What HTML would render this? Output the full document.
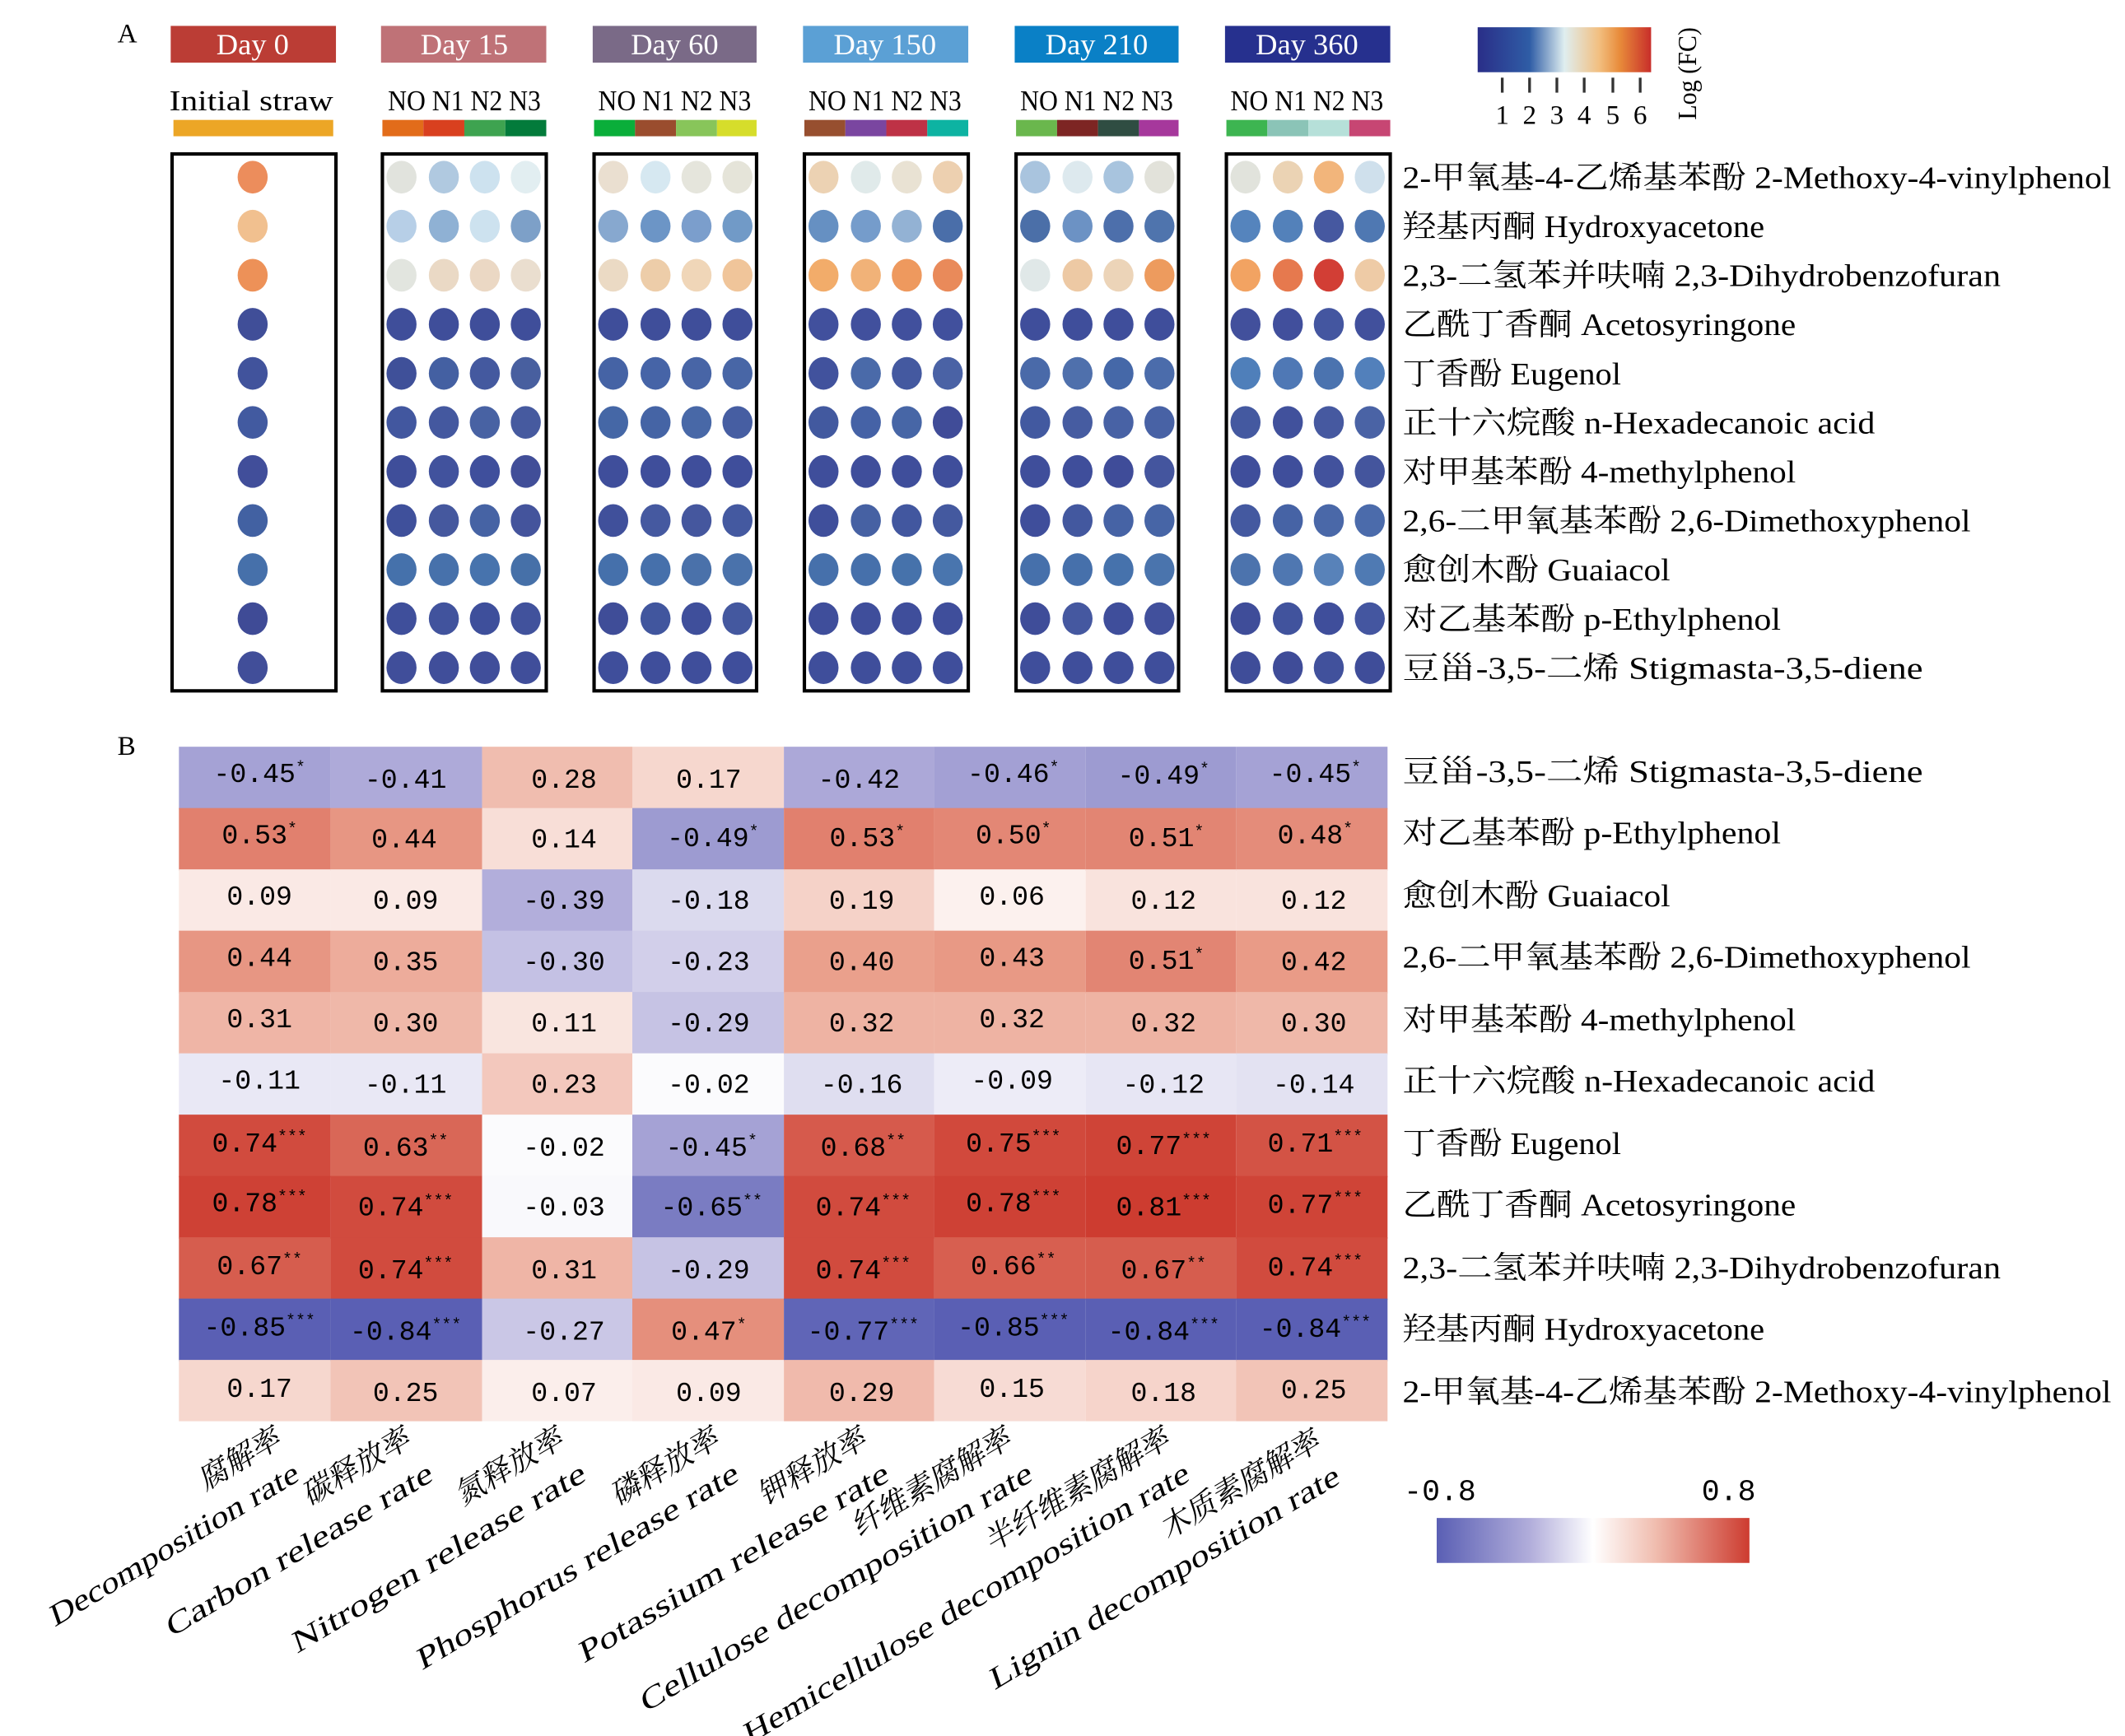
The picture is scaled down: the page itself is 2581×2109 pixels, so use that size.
<!DOCTYPE html>
<html><head><meta charset="utf-8"><style>html,body{margin:0;padding:0;background:#fff}svg{display:block}</style></head><body>
<svg xmlns="http://www.w3.org/2000/svg" width="2581" height="2109" viewBox="0 0 1556 1274" preserveAspectRatio="none" font-family="'Liberation Serif','Noto Serif CJK SC',serif">
<defs>
<linearGradient id="ga" x1="0" x2="1" y1="0" y2="0"><stop offset="0" stop-color="#2a2e88"/><stop offset="0.3" stop-color="#2f5da6"/><stop offset="0.5" stop-color="#dfeef0"/><stop offset="0.7" stop-color="#f2bf80"/><stop offset="0.82" stop-color="#e88b3a"/><stop offset="1" stop-color="#c82e2a"/></linearGradient>
<linearGradient id="gb" x1="0" x2="1" y1="0" y2="0"><stop offset="0" stop-color="#5a5fb4"/><stop offset="0.3" stop-color="#b2aedb"/><stop offset="0.5" stop-color="#ffffff"/><stop offset="0.7" stop-color="#f0bdaf"/><stop offset="1" stop-color="#cd3c30"/></linearGradient>
</defs>
<text x="86" y="31" font-size="20">A</text>
<text x="86" y="554" font-size="20">B</text>
<g font-size="22" fill="#fff" text-anchor="middle">
<rect x="125" y="19" width="121" height="27" fill="#bb3d35"/><text x="185" y="40">Day 0</text>
<rect x="279" y="19" width="121" height="27" fill="#bf7277"/><text x="340" y="40">Day 15</text>
<rect x="434" y="19" width="120" height="27" fill="#7a6a87"/><text x="494" y="40">Day 60</text>
<rect x="588" y="19" width="121" height="27" fill="#5ba0d5"/><text x="648" y="40">Day 150</text>
<rect x="743" y="19" width="120" height="27" fill="#0a80c6"/><text x="803" y="40">Day 210</text>
<rect x="897" y="19" width="121" height="27" fill="#26308e"/><text x="957" y="40">Day 360</text>
</g>
<g font-size="21" text-anchor="middle">
<text x="184" y="81" textLength="120" lengthAdjust="spacingAndGlyphs">Initial straw</text>
<text x="340" y="81" textLength="112" lengthAdjust="spacingAndGlyphs">NO N1 N2 N3</text>
<text x="494" y="81" textLength="112" lengthAdjust="spacingAndGlyphs">NO N1 N2 N3</text>
<text x="648" y="81" textLength="112" lengthAdjust="spacingAndGlyphs">NO N1 N2 N3</text>
<text x="803" y="81" textLength="112" lengthAdjust="spacingAndGlyphs">NO N1 N2 N3</text>
<text x="957" y="81" textLength="112" lengthAdjust="spacingAndGlyphs">NO N1 N2 N3</text>
</g>
<rect x="127" y="88" width="117" height="12" fill="#eca626"/>
<g>
<rect x="280" y="88" width="30" height="12" fill="#e26c1a"/><rect x="310" y="88" width="30" height="12" fill="#d9401f"/><rect x="340" y="88" width="30" height="12" fill="#3ea350"/><rect x="370" y="88" width="30" height="12" fill="#037b3b"/>
<rect x="435" y="88" width="30" height="12" fill="#0aae3a"/><rect x="465" y="88" width="30" height="12" fill="#9a4d2e"/><rect x="495" y="88" width="30" height="12" fill="#88c55a"/><rect x="525" y="88" width="29" height="12" fill="#d6dd2b"/>
<rect x="589" y="88" width="30" height="12" fill="#974f2f"/><rect x="619" y="88" width="30" height="12" fill="#7a46a0"/><rect x="649" y="88" width="30" height="12" fill="#be3246"/><rect x="679" y="88" width="30" height="12" fill="#0db3a2"/>
<rect x="744" y="88" width="30" height="12" fill="#6ab74d"/><rect x="774" y="88" width="30" height="12" fill="#7d2523"/><rect x="804" y="88" width="30" height="12" fill="#2f4d42"/><rect x="834" y="88" width="29" height="12" fill="#a6389c"/>
<rect x="898" y="88" width="30" height="12" fill="#3db551"/><rect x="928" y="88" width="30" height="12" fill="#8bc4b7"/><rect x="958" y="88" width="30" height="12" fill="#b6e0d9"/><rect x="988" y="88" width="30" height="12" fill="#c74673"/>
</g>
<g fill="none" stroke="#000" stroke-width="2.5">
<rect x="126" y="113" width="120" height="394"/><rect x="280" y="113" width="120" height="394"/><rect x="435" y="113" width="119" height="394"/><rect x="589" y="113" width="120" height="394"/><rect x="744" y="113" width="119" height="394"/><rect x="898" y="113" width="120" height="394"/>
</g>
<!-- Day 0 dots -->
<g>
<ellipse cx="185" cy="130" rx="11" ry="12" fill="#ec8d5c"/><ellipse cx="185" cy="166" rx="11" ry="12" fill="#f1c08f"/><ellipse cx="185" cy="202" rx="11" ry="12" fill="#ed9158"/><ellipse cx="185" cy="238" rx="11" ry="12" fill="#404e98"/><ellipse cx="185" cy="274" rx="11" ry="12" fill="#41539c"/><ellipse cx="185" cy="310" rx="11" ry="12" fill="#425aa0"/><ellipse cx="185" cy="346" rx="11" ry="12" fill="#414e9a"/><ellipse cx="185" cy="382" rx="11" ry="12" fill="#4261a2"/><ellipse cx="185" cy="418" rx="11" ry="12" fill="#4670aa"/><ellipse cx="185" cy="454" rx="11" ry="12" fill="#3f4b96"/><ellipse cx="185" cy="490" rx="11" ry="12" fill="#414e99"/>
</g>
<!-- Day 15 -->
<g transform="translate(279,0)">
<ellipse cx="15" cy="130" rx="11" ry="12" fill="#e1e3dd"/><ellipse cx="46" cy="130" rx="11" ry="12" fill="#b0c9e0"/><ellipse cx="76" cy="130" rx="11" ry="12" fill="#cde2ef"/><ellipse cx="106" cy="130" rx="11" ry="12" fill="#e2eef1"/>
<ellipse cx="15" cy="166" rx="11" ry="12" fill="#b7cfe7"/><ellipse cx="46" cy="166" rx="11" ry="12" fill="#8fb1d4"/><ellipse cx="76" cy="166" rx="11" ry="12" fill="#cde2ef"/><ellipse cx="106" cy="166" rx="11" ry="12" fill="#7da0c8"/>
<ellipse cx="15" cy="202" rx="11" ry="12" fill="#e2e5df"/><ellipse cx="46" cy="202" rx="11" ry="12" fill="#ead9c5"/><ellipse cx="76" cy="202" rx="11" ry="12" fill="#ebd8c4"/><ellipse cx="106" cy="202" rx="11" ry="12" fill="#eadecf"/>
<ellipse cx="15" cy="238" rx="11" ry="12" fill="#3f4e9a"/><ellipse cx="46" cy="238" rx="11" ry="12" fill="#3f4e9a"/><ellipse cx="76" cy="238" rx="11" ry="12" fill="#3f4e9a"/><ellipse cx="106" cy="238" rx="11" ry="12" fill="#3f4e9a"/>
<ellipse cx="15" cy="274" rx="11" ry="12" fill="#3f5099"/><ellipse cx="46" cy="274" rx="11" ry="12" fill="#4460a2"/><ellipse cx="76" cy="274" rx="11" ry="12" fill="#44599f"/><ellipse cx="106" cy="274" rx="11" ry="12" fill="#485f9f"/>
<ellipse cx="15" cy="310" rx="11" ry="12" fill="#42579f"/><ellipse cx="46" cy="310" rx="11" ry="12" fill="#44589f"/><ellipse cx="76" cy="310" rx="11" ry="12" fill="#4862a3"/><ellipse cx="106" cy="310" rx="11" ry="12" fill="#465a9f"/>
<ellipse cx="15" cy="346" rx="11" ry="12" fill="#3f4e9a"/><ellipse cx="46" cy="346" rx="11" ry="12" fill="#41529d"/><ellipse cx="76" cy="346" rx="11" ry="12" fill="#3f4f9c"/><ellipse cx="106" cy="346" rx="11" ry="12" fill="#414e98"/>
<ellipse cx="15" cy="382" rx="11" ry="12" fill="#3f509b"/><ellipse cx="46" cy="382" rx="11" ry="12" fill="#45589e"/><ellipse cx="76" cy="382" rx="11" ry="12" fill="#4663a4"/><ellipse cx="106" cy="382" rx="11" ry="12" fill="#44549c"/>
<ellipse cx="15" cy="418" rx="11" ry="12" fill="#4571ab"/><ellipse cx="46" cy="418" rx="11" ry="12" fill="#4771ab"/><ellipse cx="76" cy="418" rx="11" ry="12" fill="#4773ad"/><ellipse cx="106" cy="418" rx="11" ry="12" fill="#4670a8"/>
<ellipse cx="15" cy="454" rx="11" ry="12" fill="#3f4f9b"/><ellipse cx="46" cy="454" rx="11" ry="12" fill="#41539d"/><ellipse cx="76" cy="454" rx="11" ry="12" fill="#3e4f9b"/><ellipse cx="106" cy="454" rx="11" ry="12" fill="#41529c"/>
<ellipse cx="15" cy="490" rx="11" ry="12" fill="#404e9a"/><ellipse cx="46" cy="490" rx="11" ry="12" fill="#404e9a"/><ellipse cx="76" cy="490" rx="11" ry="12" fill="#404e9a"/><ellipse cx="106" cy="490" rx="11" ry="12" fill="#404e9a"/>
</g>
<!-- Day 60 -->
<g transform="translate(434,0)">
<ellipse cx="15" cy="130" rx="11" ry="12" fill="#eadfd0"/><ellipse cx="46" cy="130" rx="11" ry="12" fill="#d6e8f1"/><ellipse cx="76" cy="130" rx="11" ry="12" fill="#e5e5dc"/><ellipse cx="106" cy="130" rx="11" ry="12" fill="#e5e4d9"/>
<ellipse cx="15" cy="166" rx="11" ry="12" fill="#87a8cf"/><ellipse cx="46" cy="166" rx="11" ry="12" fill="#6c95c6"/><ellipse cx="76" cy="166" rx="11" ry="12" fill="#7b9ecc"/><ellipse cx="106" cy="166" rx="11" ry="12" fill="#719ac7"/>
<ellipse cx="15" cy="202" rx="11" ry="12" fill="#ebdac4"/><ellipse cx="46" cy="202" rx="11" ry="12" fill="#edcda9"/><ellipse cx="76" cy="202" rx="11" ry="12" fill="#f0d6b8"/><ellipse cx="106" cy="202" rx="11" ry="12" fill="#f0c59a"/>
<ellipse cx="15" cy="238" rx="11" ry="12" fill="#3f4e9a"/><ellipse cx="46" cy="238" rx="11" ry="12" fill="#3f4e9a"/><ellipse cx="76" cy="238" rx="11" ry="12" fill="#3f4e9a"/><ellipse cx="106" cy="238" rx="11" ry="12" fill="#3f4e9a"/>
<ellipse cx="15" cy="274" rx="11" ry="12" fill="#4563a5"/><ellipse cx="46" cy="274" rx="11" ry="12" fill="#4664a7"/><ellipse cx="76" cy="274" rx="11" ry="12" fill="#4865a6"/><ellipse cx="106" cy="274" rx="11" ry="12" fill="#4866a6"/>
<ellipse cx="15" cy="310" rx="11" ry="12" fill="#4567a6"/><ellipse cx="46" cy="310" rx="11" ry="12" fill="#4564a5"/><ellipse cx="76" cy="310" rx="11" ry="12" fill="#4868a7"/><ellipse cx="106" cy="310" rx="11" ry="12" fill="#465ea2"/>
<ellipse cx="15" cy="346" rx="11" ry="12" fill="#3f4e9b"/><ellipse cx="46" cy="346" rx="11" ry="12" fill="#3f4e9b"/><ellipse cx="76" cy="346" rx="11" ry="12" fill="#3f4e9b"/><ellipse cx="106" cy="346" rx="11" ry="12" fill="#3f4e9b"/>
<ellipse cx="15" cy="382" rx="11" ry="12" fill="#40509b"/><ellipse cx="46" cy="382" rx="11" ry="12" fill="#4559a0"/><ellipse cx="76" cy="382" rx="11" ry="12" fill="#45579e"/><ellipse cx="106" cy="382" rx="11" ry="12" fill="#4459a0"/>
<ellipse cx="15" cy="418" rx="11" ry="12" fill="#4570ab"/><ellipse cx="46" cy="418" rx="11" ry="12" fill="#4670ab"/><ellipse cx="76" cy="418" rx="11" ry="12" fill="#4a71aa"/><ellipse cx="106" cy="418" rx="11" ry="12" fill="#4a72ab"/>
<ellipse cx="15" cy="454" rx="11" ry="12" fill="#3f4d98"/><ellipse cx="46" cy="454" rx="11" ry="12" fill="#41569e"/><ellipse cx="76" cy="454" rx="11" ry="12" fill="#3f4f9b"/><ellipse cx="106" cy="454" rx="11" ry="12" fill="#44589f"/>
<ellipse cx="15" cy="490" rx="11" ry="12" fill="#3f4e9b"/><ellipse cx="46" cy="490" rx="11" ry="12" fill="#3f4e9b"/><ellipse cx="76" cy="490" rx="11" ry="12" fill="#3f4e9b"/><ellipse cx="106" cy="490" rx="11" ry="12" fill="#3f4e9b"/>
</g>
<!-- Day 150 -->
<g transform="translate(588,0)">
<ellipse cx="15" cy="130" rx="11" ry="12" fill="#ecd2b3"/><ellipse cx="46" cy="130" rx="11" ry="12" fill="#e0eaea"/><ellipse cx="76" cy="130" rx="11" ry="12" fill="#e9e2d3"/><ellipse cx="106" cy="130" rx="11" ry="12" fill="#edd0b0"/>
<ellipse cx="15" cy="166" rx="11" ry="12" fill="#6690c2"/><ellipse cx="46" cy="166" rx="11" ry="12" fill="#759ccb"/><ellipse cx="76" cy="166" rx="11" ry="12" fill="#93b2d4"/><ellipse cx="106" cy="166" rx="11" ry="12" fill="#4a6ea9"/>
<ellipse cx="15" cy="202" rx="11" ry="12" fill="#f2ac6a"/><ellipse cx="46" cy="202" rx="11" ry="12" fill="#f1b278"/><ellipse cx="76" cy="202" rx="11" ry="12" fill="#ee995e"/><ellipse cx="106" cy="202" rx="11" ry="12" fill="#e98a5a"/>
<ellipse cx="15" cy="238" rx="11" ry="12" fill="#41509d"/><ellipse cx="46" cy="238" rx="11" ry="12" fill="#41509d"/><ellipse cx="76" cy="238" rx="11" ry="12" fill="#41509d"/><ellipse cx="106" cy="238" rx="11" ry="12" fill="#41509d"/>
<ellipse cx="15" cy="274" rx="11" ry="12" fill="#41529d"/><ellipse cx="46" cy="274" rx="11" ry="12" fill="#4a6aa9"/><ellipse cx="76" cy="274" rx="11" ry="12" fill="#4459a0"/><ellipse cx="106" cy="274" rx="11" ry="12" fill="#4a62a5"/>
<ellipse cx="15" cy="310" rx="11" ry="12" fill="#42599f"/><ellipse cx="46" cy="310" rx="11" ry="12" fill="#4562a6"/><ellipse cx="76" cy="310" rx="11" ry="12" fill="#4766a6"/><ellipse cx="106" cy="310" rx="11" ry="12" fill="#404c98"/>
<ellipse cx="15" cy="346" rx="11" ry="12" fill="#3f4e9b"/><ellipse cx="46" cy="346" rx="11" ry="12" fill="#3f4e9b"/><ellipse cx="76" cy="346" rx="11" ry="12" fill="#3f4e9b"/><ellipse cx="106" cy="346" rx="11" ry="12" fill="#3f4e9b"/>
<ellipse cx="15" cy="382" rx="11" ry="12" fill="#3f4f9b"/><ellipse cx="46" cy="382" rx="11" ry="12" fill="#4661a3"/><ellipse cx="76" cy="382" rx="11" ry="12" fill="#42579f"/><ellipse cx="106" cy="382" rx="11" ry="12" fill="#44599f"/>
<ellipse cx="15" cy="418" rx="11" ry="12" fill="#4670ab"/><ellipse cx="46" cy="418" rx="11" ry="12" fill="#4670ab"/><ellipse cx="76" cy="418" rx="11" ry="12" fill="#4672ab"/><ellipse cx="106" cy="418" rx="11" ry="12" fill="#4975ae"/>
<ellipse cx="15" cy="454" rx="11" ry="12" fill="#3f4e9b"/><ellipse cx="46" cy="454" rx="11" ry="12" fill="#3f4e9b"/><ellipse cx="76" cy="454" rx="11" ry="12" fill="#3f4e9b"/><ellipse cx="106" cy="454" rx="11" ry="12" fill="#3f4e9b"/>
<ellipse cx="15" cy="490" rx="11" ry="12" fill="#3f4e9b"/><ellipse cx="46" cy="490" rx="11" ry="12" fill="#3f4e9b"/><ellipse cx="76" cy="490" rx="11" ry="12" fill="#3f4e9b"/><ellipse cx="106" cy="490" rx="11" ry="12" fill="#3f4e9b"/>
</g>
<!-- Day 210 -->
<g transform="translate(743,0)">
<ellipse cx="15" cy="130" rx="11" ry="12" fill="#a9c4de"/><ellipse cx="46" cy="130" rx="11" ry="12" fill="#dde9ee"/><ellipse cx="76" cy="130" rx="11" ry="12" fill="#a8c4de"/><ellipse cx="106" cy="130" rx="11" ry="12" fill="#e2e2da"/>
<ellipse cx="15" cy="166" rx="11" ry="12" fill="#4b6fa8"/><ellipse cx="46" cy="166" rx="11" ry="12" fill="#6c92c4"/><ellipse cx="76" cy="166" rx="11" ry="12" fill="#4d6fab"/><ellipse cx="106" cy="166" rx="11" ry="12" fill="#4f74ad"/>
<ellipse cx="15" cy="202" rx="11" ry="12" fill="#e0e8e8"/><ellipse cx="46" cy="202" rx="11" ry="12" fill="#edc9a4"/><ellipse cx="76" cy="202" rx="11" ry="12" fill="#ecd4b8"/><ellipse cx="106" cy="202" rx="11" ry="12" fill="#ed9b5e"/>
<ellipse cx="15" cy="238" rx="11" ry="12" fill="#3f4e9b"/><ellipse cx="46" cy="238" rx="11" ry="12" fill="#3f4e9b"/><ellipse cx="76" cy="238" rx="11" ry="12" fill="#3f4e9b"/><ellipse cx="106" cy="238" rx="11" ry="12" fill="#3f4e9b"/>
<ellipse cx="15" cy="274" rx="11" ry="12" fill="#4a6aa9"/><ellipse cx="46" cy="274" rx="11" ry="12" fill="#4f70ac"/><ellipse cx="76" cy="274" rx="11" ry="12" fill="#4568a8"/><ellipse cx="106" cy="274" rx="11" ry="12" fill="#4b6cab"/>
<ellipse cx="15" cy="310" rx="11" ry="12" fill="#4259a0"/><ellipse cx="46" cy="310" rx="11" ry="12" fill="#465ca1"/><ellipse cx="76" cy="310" rx="11" ry="12" fill="#4862a5"/><ellipse cx="106" cy="310" rx="11" ry="12" fill="#4862a5"/>
<ellipse cx="15" cy="346" rx="11" ry="12" fill="#3f4e9b"/><ellipse cx="46" cy="346" rx="11" ry="12" fill="#3f4e9b"/><ellipse cx="76" cy="346" rx="11" ry="12" fill="#3f4c99"/><ellipse cx="106" cy="346" rx="11" ry="12" fill="#44559e"/>
<ellipse cx="15" cy="382" rx="11" ry="12" fill="#3f4e9b"/><ellipse cx="46" cy="382" rx="11" ry="12" fill="#43589f"/><ellipse cx="76" cy="382" rx="11" ry="12" fill="#4663a5"/><ellipse cx="106" cy="382" rx="11" ry="12" fill="#4765a6"/>
<ellipse cx="15" cy="418" rx="11" ry="12" fill="#4670ab"/><ellipse cx="46" cy="418" rx="11" ry="12" fill="#4670ab"/><ellipse cx="76" cy="418" rx="11" ry="12" fill="#4672ac"/><ellipse cx="106" cy="418" rx="11" ry="12" fill="#4a74ad"/>
<ellipse cx="15" cy="454" rx="11" ry="12" fill="#3f4d99"/><ellipse cx="46" cy="454" rx="11" ry="12" fill="#4558a0"/><ellipse cx="76" cy="454" rx="11" ry="12" fill="#3f4e9b"/><ellipse cx="106" cy="454" rx="11" ry="12" fill="#41509c"/>
<ellipse cx="15" cy="490" rx="11" ry="12" fill="#3f4e9b"/><ellipse cx="46" cy="490" rx="11" ry="12" fill="#3f4e9b"/><ellipse cx="76" cy="490" rx="11" ry="12" fill="#3f4e9b"/><ellipse cx="106" cy="490" rx="11" ry="12" fill="#3f4e9b"/>
</g>
<!-- Day 360 -->
<g transform="translate(897,0)">
<ellipse cx="15" cy="130" rx="11" ry="12" fill="#e1e3dc"/><ellipse cx="46" cy="130" rx="11" ry="12" fill="#ebd3b4"/><ellipse cx="76" cy="130" rx="11" ry="12" fill="#f2b57b"/><ellipse cx="106" cy="130" rx="11" ry="12" fill="#cfe0ec"/>
<ellipse cx="15" cy="166" rx="11" ry="12" fill="#5584bd"/><ellipse cx="46" cy="166" rx="11" ry="12" fill="#5381ba"/><ellipse cx="76" cy="166" rx="11" ry="12" fill="#4658a0"/><ellipse cx="106" cy="166" rx="11" ry="12" fill="#4f78b2"/>
<ellipse cx="15" cy="202" rx="11" ry="12" fill="#f2a362"/><ellipse cx="46" cy="202" rx="11" ry="12" fill="#e6794e"/><ellipse cx="76" cy="202" rx="11" ry="12" fill="#d23e35"/><ellipse cx="106" cy="202" rx="11" ry="12" fill="#eecba6"/>
<ellipse cx="15" cy="238" rx="11" ry="12" fill="#42509c"/><ellipse cx="46" cy="238" rx="11" ry="12" fill="#414f9c"/><ellipse cx="76" cy="238" rx="11" ry="12" fill="#4456a0"/><ellipse cx="106" cy="238" rx="11" ry="12" fill="#41509c"/>
<ellipse cx="15" cy="274" rx="11" ry="12" fill="#4f7fba"/><ellipse cx="46" cy="274" rx="11" ry="12" fill="#4f78b5"/><ellipse cx="76" cy="274" rx="11" ry="12" fill="#4b73af"/><ellipse cx="106" cy="274" rx="11" ry="12" fill="#5280bb"/>
<ellipse cx="15" cy="310" rx="11" ry="12" fill="#4459a0"/><ellipse cx="46" cy="310" rx="11" ry="12" fill="#41519c"/><ellipse cx="76" cy="310" rx="11" ry="12" fill="#4659a0"/><ellipse cx="106" cy="310" rx="11" ry="12" fill="#4a63a5"/>
<ellipse cx="15" cy="346" rx="11" ry="12" fill="#3f4e9b"/><ellipse cx="46" cy="346" rx="11" ry="12" fill="#3f4e9b"/><ellipse cx="76" cy="346" rx="11" ry="12" fill="#42529d"/><ellipse cx="106" cy="346" rx="11" ry="12" fill="#44559d"/>
<ellipse cx="15" cy="382" rx="11" ry="12" fill="#4459a0"/><ellipse cx="46" cy="382" rx="11" ry="12" fill="#4663a5"/><ellipse cx="76" cy="382" rx="11" ry="12" fill="#4a68a8"/><ellipse cx="106" cy="382" rx="11" ry="12" fill="#4b6bab"/>
<ellipse cx="15" cy="418" rx="11" ry="12" fill="#4c73ad"/><ellipse cx="46" cy="418" rx="11" ry="12" fill="#4f77b1"/><ellipse cx="76" cy="418" rx="11" ry="12" fill="#5882b9"/><ellipse cx="106" cy="418" rx="11" ry="12" fill="#4f7ab3"/>
<ellipse cx="15" cy="454" rx="11" ry="12" fill="#3f4d99"/><ellipse cx="46" cy="454" rx="11" ry="12" fill="#41539d"/><ellipse cx="76" cy="454" rx="11" ry="12" fill="#3f4e9b"/><ellipse cx="106" cy="454" rx="11" ry="12" fill="#4456a0"/>
<ellipse cx="15" cy="490" rx="11" ry="12" fill="#3f4d99"/><ellipse cx="46" cy="490" rx="11" ry="12" fill="#3f4c98"/><ellipse cx="76" cy="490" rx="11" ry="12" fill="#41519c"/><ellipse cx="106" cy="490" rx="11" ry="12" fill="#3f4d99"/>
</g>
<!-- colorbar A -->
<rect x="1082" y="20" width="127" height="33" fill="url(#ga)"/>
<g stroke="#333" stroke-width="2"><line x1="1100" y1="57" x2="1100" y2="68"/><line x1="1120" y1="57" x2="1120" y2="68"/><line x1="1140" y1="57" x2="1140" y2="68"/><line x1="1160" y1="57" x2="1160" y2="68"/><line x1="1181" y1="57" x2="1181" y2="68"/><line x1="1201" y1="57" x2="1201" y2="68"/></g>
<g font-size="20" text-anchor="middle"><text x="1100" y="91">1</text><text x="1120" y="91">2</text><text x="1140" y="91">3</text><text x="1160" y="91">4</text><text x="1181" y="91">5</text><text x="1201" y="91">6</text></g>
<text transform="translate(1242,88) rotate(-90)" font-size="19" textLength="68" lengthAdjust="spacingAndGlyphs">Log (FC)</text>
<!-- row labels A -->
<g font-size="23" lengthAdjust="spacingAndGlyphs">
<text x="1027" y="138" textLength="519" lengthAdjust="spacingAndGlyphs">2-甲氧基-4-乙烯基苯酚 2-Methoxy-4-vinylphenol</text>
<text x="1027" y="174" textLength="265" lengthAdjust="spacingAndGlyphs">羟基丙酮 Hydroxyacetone</text>
<text x="1027" y="210" textLength="438" lengthAdjust="spacingAndGlyphs">2,3-二氢苯并呋喃 2,3-Dihydrobenzofuran</text>
<text x="1027" y="246" textLength="288" lengthAdjust="spacingAndGlyphs">乙酰丁香酮 Acetosyringone</text>
<text x="1027" y="282" textLength="160" lengthAdjust="spacingAndGlyphs">丁香酚 Eugenol</text>
<text x="1027" y="318" textLength="346" lengthAdjust="spacingAndGlyphs">正十六烷酸 n-Hexadecanoic acid</text>
<text x="1027" y="354" textLength="288" lengthAdjust="spacingAndGlyphs">对甲基苯酚 4-methylphenol</text>
<text x="1027" y="390" textLength="416" lengthAdjust="spacingAndGlyphs">2,6-二甲氧基苯酚 2,6-Dimethoxyphenol</text>
<text x="1027" y="426" textLength="196" lengthAdjust="spacingAndGlyphs">愈创木酚 Guaiacol</text>
<text x="1027" y="462" textLength="277" lengthAdjust="spacingAndGlyphs">对乙基苯酚 p-Ethylphenol</text>
<text x="1027" y="498" textLength="381" lengthAdjust="spacingAndGlyphs">豆甾-3,5-二烯 Stigmasta-3,5-diene</text>
</g>
<!-- heatmap B -->
<g>
<rect x="131" y="548" width="111" height="46" fill="#a5a2d5"/><rect x="242" y="548" width="111" height="46" fill="#aeaad9"/><rect x="353" y="548" width="110" height="46" fill="#f0bdaf"/><rect x="463" y="548" width="111" height="46" fill="#f6d7ce"/><rect x="574" y="548" width="110" height="46" fill="#aca8d8"/><rect x="684" y="548" width="111" height="46" fill="#a3a0d4"/><rect x="795" y="548" width="110" height="46" fill="#9d9bd1"/><rect x="905" y="548" width="111" height="46" fill="#a5a2d5"/>
<rect x="131" y="593" width="111" height="46" fill="#e1806e"/><rect x="242" y="593" width="111" height="46" fill="#e79683"/><rect x="353" y="593" width="110" height="46" fill="#f8ded7"/><rect x="463" y="593" width="111" height="46" fill="#9d9bd1"/><rect x="574" y="593" width="110" height="46" fill="#e1806e"/><rect x="684" y="593" width="111" height="46" fill="#e38775"/><rect x="795" y="593" width="110" height="46" fill="#e28573"/><rect x="905" y="593" width="111" height="46" fill="#e48c7a"/>
<rect x="131" y="638" width="111" height="46" fill="#fae9e5"/><rect x="242" y="638" width="111" height="46" fill="#fae9e5"/><rect x="353" y="638" width="110" height="46" fill="#b2aedb"/><rect x="463" y="638" width="111" height="46" fill="#dbdaee"/><rect x="574" y="638" width="110" height="46" fill="#f5d2c8"/><rect x="684" y="638" width="111" height="46" fill="#fcf1ee"/><rect x="795" y="638" width="110" height="46" fill="#f9e3dd"/><rect x="905" y="638" width="111" height="46" fill="#f9e3dd"/>
<rect x="131" y="683" width="111" height="46" fill="#e79683"/><rect x="242" y="683" width="111" height="46" fill="#edac9b"/><rect x="353" y="683" width="110" height="46" fill="#c4c1e4"/><rect x="463" y="683" width="111" height="46" fill="#d2cfea"/><rect x="574" y="683" width="110" height="46" fill="#eaa08c"/><rect x="684" y="683" width="111" height="46" fill="#e89985"/><rect x="795" y="683" width="110" height="46" fill="#e28573"/><rect x="905" y="683" width="111" height="46" fill="#e99b87"/>
<rect x="131" y="728" width="111" height="46" fill="#efb5a6"/><rect x="242" y="728" width="111" height="46" fill="#efb8a9"/><rect x="353" y="728" width="110" height="46" fill="#f9e5df"/><rect x="463" y="728" width="111" height="46" fill="#c6c3e4"/><rect x="574" y="728" width="110" height="46" fill="#eeb3a3"/><rect x="684" y="728" width="111" height="46" fill="#eeb3a3"/><rect x="795" y="728" width="110" height="46" fill="#eeb3a3"/><rect x="905" y="728" width="111" height="46" fill="#efb8a9"/>
<rect x="131" y="773" width="111" height="46" fill="#e9e8f5"/><rect x="242" y="773" width="111" height="46" fill="#e9e8f5"/><rect x="353" y="773" width="110" height="46" fill="#f3c8bd"/><rect x="463" y="773" width="111" height="46" fill="#fbfbfd"/><rect x="574" y="773" width="110" height="46" fill="#dfdef0"/><rect x="684" y="773" width="111" height="46" fill="#edecf7"/><rect x="795" y="773" width="110" height="46" fill="#e7e6f4"/><rect x="905" y="773" width="111" height="46" fill="#e3e2f2"/>
<rect x="131" y="818" width="111" height="46" fill="#d14b3e"/><rect x="242" y="818" width="111" height="46" fill="#d96757"/><rect x="353" y="818" width="110" height="46" fill="#fbfbfd"/><rect x="463" y="818" width="111" height="46" fill="#a5a2d5"/><rect x="574" y="818" width="110" height="46" fill="#d65a4c"/><rect x="684" y="818" width="111" height="46" fill="#d1493c"/><rect x="795" y="818" width="110" height="46" fill="#cf4437"/><rect x="905" y="818" width="111" height="46" fill="#d35345"/>
<rect x="131" y="863" width="111" height="46" fill="#ce4135"/><rect x="242" y="863" width="111" height="46" fill="#d14b3e"/><rect x="353" y="863" width="110" height="46" fill="#f9f9fc"/><rect x="463" y="863" width="111" height="46" fill="#7a7cc2"/><rect x="574" y="863" width="110" height="46" fill="#d14b3e"/><rect x="684" y="863" width="111" height="46" fill="#ce4135"/><rect x="795" y="863" width="110" height="46" fill="#cd3c30"/><rect x="905" y="863" width="111" height="46" fill="#cf4437"/>
<rect x="131" y="908" width="111" height="46" fill="#d65d4e"/><rect x="242" y="908" width="111" height="46" fill="#d14b3e"/><rect x="353" y="908" width="110" height="46" fill="#efb5a6"/><rect x="463" y="908" width="111" height="46" fill="#c6c3e4"/><rect x="574" y="908" width="110" height="46" fill="#d14b3e"/><rect x="684" y="908" width="111" height="46" fill="#d75f50"/><rect x="795" y="908" width="110" height="46" fill="#d65d4e"/><rect x="905" y="908" width="111" height="46" fill="#d14b3e"/>
<rect x="131" y="953" width="111" height="46" fill="#5a5fb4"/><rect x="242" y="953" width="111" height="46" fill="#5a5fb4"/><rect x="353" y="953" width="110" height="46" fill="#cac7e6"/><rect x="463" y="953" width="111" height="46" fill="#e58f7c"/><rect x="574" y="953" width="110" height="46" fill="#6065b7"/><rect x="684" y="953" width="111" height="46" fill="#5a5fb4"/><rect x="795" y="953" width="110" height="46" fill="#5a5fb4"/><rect x="905" y="953" width="111" height="46" fill="#5a5fb4"/>
<rect x="131" y="998" width="111" height="45" fill="#f6d7ce"/><rect x="242" y="998" width="111" height="45" fill="#f2c4b7"/><rect x="353" y="998" width="110" height="45" fill="#fbeeeb"/><rect x="463" y="998" width="111" height="45" fill="#fae9e5"/><rect x="574" y="998" width="110" height="45" fill="#f0baac"/><rect x="684" y="998" width="111" height="45" fill="#f7dbd4"/><rect x="795" y="998" width="110" height="45" fill="#f6d4cb"/><rect x="905" y="998" width="111" height="45" fill="#f2c4b7"/>
</g>
<g font-family="'Liberation Mono',monospace" font-size="20" text-anchor="middle">
<text x="190" y="574">-0.45<tspan font-size="12" dy="-7">*</tspan></text><text x="297" y="578">-0.41</text><text x="413" y="578">0.28</text><text x="519" y="578">0.17</text><text x="629" y="578">-0.42</text><text x="742" y="574">-0.46<tspan font-size="12" dy="-7">*</tspan></text><text x="852" y="575">-0.49<tspan font-size="12" dy="-7">*</tspan></text><text x="963" y="574">-0.45<tspan font-size="12" dy="-7">*</tspan></text>
<text x="190" y="619">0.53<tspan font-size="12" dy="-7">*</tspan></text><text x="296" y="622">0.44</text><text x="413" y="622">0.14</text><text x="522" y="621">-0.49<tspan font-size="12" dy="-7">*</tspan></text><text x="635" y="621">0.53<tspan font-size="12" dy="-7">*</tspan></text><text x="742" y="619">0.50<tspan font-size="12" dy="-7">*</tspan></text><text x="854" y="621">0.51<tspan font-size="12" dy="-7">*</tspan></text><text x="963" y="619">0.48<tspan font-size="12" dy="-7">*</tspan></text>
<text x="190" y="664">0.09</text><text x="297" y="667">0.09</text><text x="413" y="667">-0.39</text><text x="519" y="667">-0.18</text><text x="631" y="667">0.19</text><text x="741" y="664">0.06</text><text x="852" y="667">0.12</text><text x="962" y="667">0.12</text>
<text x="190" y="709">0.44</text><text x="297" y="712">0.35</text><text x="413" y="712">-0.30</text><text x="519" y="712">-0.23</text><text x="631" y="712">0.40</text><text x="741" y="709">0.43</text><text x="854" y="711">0.51<tspan font-size="12" dy="-7">*</tspan></text><text x="962" y="712">0.42</text>
<text x="190" y="754">0.31</text><text x="297" y="757">0.30</text><text x="413" y="757">0.11</text><text x="519" y="757">-0.29</text><text x="631" y="757">0.32</text><text x="741" y="754">0.32</text><text x="852" y="757">0.32</text><text x="962" y="757">0.30</text>
<text x="190" y="799">-0.11</text><text x="297" y="802">-0.11</text><text x="413" y="802">0.23</text><text x="519" y="802">-0.02</text><text x="631" y="802">-0.16</text><text x="741" y="799">-0.09</text><text x="852" y="802">-0.12</text><text x="962" y="802">-0.14</text>
<text x="190" y="845">0.74<tspan font-size="12" dy="-7">***</tspan></text><text x="297" y="848">0.63<tspan font-size="12" dy="-7">**</tspan></text><text x="413" y="848">-0.02</text><text x="521" y="848">-0.45<tspan font-size="12" dy="-7">*</tspan></text><text x="632" y="848">0.68<tspan font-size="12" dy="-7">**</tspan></text><text x="742" y="845">0.75<tspan font-size="12" dy="-7">***</tspan></text><text x="852" y="847">0.77<tspan font-size="12" dy="-7">***</tspan></text><text x="963" y="845">0.71<tspan font-size="12" dy="-7">***</tspan></text>
<text x="190" y="889">0.78<tspan font-size="12" dy="-7">***</tspan></text><text x="297" y="892">0.74<tspan font-size="12" dy="-7">***</tspan></text><text x="413" y="892">-0.03</text><text x="521" y="892">-0.65<tspan font-size="12" dy="-7">**</tspan></text><text x="632" y="892">0.74<tspan font-size="12" dy="-7">***</tspan></text><text x="742" y="889">0.78<tspan font-size="12" dy="-7">***</tspan></text><text x="852" y="892">0.81<tspan font-size="12" dy="-7">***</tspan></text><text x="963" y="890">0.77<tspan font-size="12" dy="-7">***</tspan></text>
<text x="190" y="935">0.67<tspan font-size="12" dy="-7">**</tspan></text><text x="297" y="938">0.74<tspan font-size="12" dy="-7">***</tspan></text><text x="413" y="938">0.31</text><text x="519" y="938">-0.29</text><text x="632" y="938">0.74<tspan font-size="12" dy="-7">***</tspan></text><text x="742" y="935">0.66<tspan font-size="12" dy="-7">**</tspan></text><text x="852" y="938">0.67<tspan font-size="12" dy="-7">**</tspan></text><text x="963" y="936">0.74<tspan font-size="12" dy="-7">***</tspan></text>
<text x="190" y="980">-0.85<tspan font-size="12" dy="-7">***</tspan></text><text x="297" y="983">-0.84<tspan font-size="12" dy="-7">***</tspan></text><text x="413" y="983">-0.27</text><text x="519" y="983">0.47<tspan font-size="12" dy="-7">*</tspan></text><text x="632" y="983">-0.77<tspan font-size="12" dy="-7">***</tspan></text><text x="742" y="980">-0.85<tspan font-size="12" dy="-7">***</tspan></text><text x="852" y="983">-0.84<tspan font-size="12" dy="-7">***</tspan></text><text x="963" y="981">-0.84<tspan font-size="12" dy="-7">***</tspan></text>
<text x="190" y="1025">0.17</text><text x="297" y="1028">0.25</text><text x="413" y="1028">0.07</text><text x="519" y="1028">0.09</text><text x="631" y="1028">0.29</text><text x="741" y="1025">0.15</text><text x="852" y="1028">0.18</text><text x="962" y="1026">0.25</text>
</g>
<g font-size="23">
<text x="1027" y="574" textLength="381" lengthAdjust="spacingAndGlyphs">豆甾-3,5-二烯 Stigmasta-3,5-diene</text>
<text x="1027" y="619" textLength="277" lengthAdjust="spacingAndGlyphs">对乙基苯酚 p-Ethylphenol</text>
<text x="1027" y="665" textLength="196" lengthAdjust="spacingAndGlyphs">愈创木酚 Guaiacol</text>
<text x="1027" y="710" textLength="416" lengthAdjust="spacingAndGlyphs">2,6-二甲氧基苯酚 2,6-Dimethoxyphenol</text>
<text x="1027" y="756" textLength="288" lengthAdjust="spacingAndGlyphs">对甲基苯酚 4-methylphenol</text>
<text x="1027" y="801" textLength="346" lengthAdjust="spacingAndGlyphs">正十六烷酸 n-Hexadecanoic acid</text>
<text x="1027" y="847" textLength="160" lengthAdjust="spacingAndGlyphs">丁香酚 Eugenol</text>
<text x="1027" y="892" textLength="288" lengthAdjust="spacingAndGlyphs">乙酰丁香酮 Acetosyringone</text>
<text x="1027" y="938" textLength="438" lengthAdjust="spacingAndGlyphs">2,3-二氢苯并呋喃 2,3-Dihydrobenzofuran</text>
<text x="1027" y="983" textLength="265" lengthAdjust="spacingAndGlyphs">羟基丙酮 Hydroxyacetone</text>
<text x="1027" y="1029" textLength="519" lengthAdjust="spacingAndGlyphs">2-甲氧基-4-乙烯基苯酚 2-Methoxy-4-vinylphenol</text>
</g>
<!-- bottom rotated labels -->
<g font-size="22" text-anchor="end">
<text transform="translate(207,1060) rotate(-31) skewX(-12)">腐解率</text>
<text transform="translate(220,1086) rotate(-31) skewX(-12)" textLength="210" lengthAdjust="spacingAndGlyphs">Decomposition rate</text>
<text transform="translate(302,1060) rotate(-31) skewX(-12)">碳释放率</text>
<text transform="translate(318,1086) rotate(-31) skewX(-12)" textLength="225" lengthAdjust="spacingAndGlyphs">Carbon release rate</text>
<text transform="translate(414,1060) rotate(-31) skewX(-12)">氮释放率</text>
<text transform="translate(430,1086) rotate(-31) skewX(-12)" textLength="248" lengthAdjust="spacingAndGlyphs">Nitrogen release rate</text>
<text transform="translate(528,1060) rotate(-31) skewX(-12)">磷释放率</text>
<text transform="translate(542,1086) rotate(-31) skewX(-12)" textLength="272" lengthAdjust="spacingAndGlyphs">Phosphorus release rate</text>
<text transform="translate(636,1060) rotate(-31) skewX(-12)">钾释放率</text>
<text transform="translate(652,1086) rotate(-31) skewX(-12)" textLength="262" lengthAdjust="spacingAndGlyphs">Potassium release rate</text>
<text transform="translate(742,1060) rotate(-31) skewX(-12)">纤维素腐解率</text>
<text transform="translate(757,1086) rotate(-31) skewX(-12)" textLength="332" lengthAdjust="spacingAndGlyphs">Cellulose decomposition rate</text>
<text transform="translate(858,1060) rotate(-31) skewX(-12)">半纤维素腐解率</text>
<text transform="translate(872,1086) rotate(-31) skewX(-12)" textLength="378" lengthAdjust="spacingAndGlyphs">Hemicellulose decomposition rate</text>
<text transform="translate(968,1062) rotate(-31) skewX(-12)">木质素腐解率</text>
<text transform="translate(982,1088) rotate(-31) skewX(-12)" textLength="296" lengthAdjust="spacingAndGlyphs">Lignin decomposition rate</text>
</g>
<!-- colorbar B -->
<text x="1028" y="1101" font-size="22" font-family="'Liberation Mono',monospace">-0.8</text>
<text x="1246" y="1101" font-size="22" font-family="'Liberation Mono',monospace">0.8</text>
<rect x="1052" y="1114" width="229" height="33" fill="url(#gb)"/>
</svg>
</body></html>
